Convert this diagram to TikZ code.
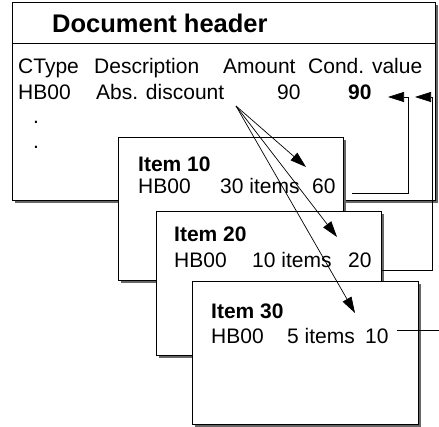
\documentclass[tikz,border=0pt]{standalone}
\usepackage{fontspec}
\setmainfont{Liberation Sans}
\usetikzlibrary{arrows.meta,shadows,positioning}
\tikzset{
    card/.style={
           rectangle,
           draw=black, fill=white, line width=1pt,
           drop shadow={shadow xshift=2.5pt, shadow yshift=-2.5pt, fill=gray!80!black, opacity=1},
           inner sep=0pt,
           },
    txt/.style={anchor=base west, inner sep=0pt, font=\fontsize{21}{24}\selectfont},
    btxt/.style={txt, font=\fontsize{21}{24}\selectfont\bfseries},
    wire/.style={line width=0.7pt, -{Triangle[length=16pt,width=10pt]}},
}

\begin{document}
\begin{tikzpicture}[x=1pt, y=-1pt]
\useasboundingbox (0,0) rectangle (439,427);
% document header
\node[card, minimum width=423pt, minimum height=198pt] (hdr) at (223.5,102) {};
\coordinate (hl) at (0,44);
\draw[line width=1pt] (hdr.west |- hl) -- (hdr.east |- hl);
\node[btxt, font=\fontsize{25.5}{30}\selectfont\bfseries] (title) at (52,33) {Document header};
\node[txt] (ctype) at (18,74) {CType};
\node[txt] (desc) at (94,74) {Description};
\node[txt] (amt) at (223,74) {Amount};
\node[txt] (cval) at (308,74) {Cond. value};
\node[txt] (hb) at (18,100) {HB00};
\node[txt] (abs) at (96,100) {Abs. discount};
\node[txt] (a90) at (277,100) {90};
\node[btxt] (v90) at (348,100) {90};
\node[txt] (dot1) at (33,124) {.};
\node[txt] (dot2) at (33,149) {.};
% items
\node[card, minimum width=225pt, minimum height=143pt] (it10) at (230.5,209.5) {};
\node[btxt] (n10) at (138,172) {Item 10};
\node[txt] (h10) at (138,194) {HB00};
\node[txt] (q10) at (220,194) {30 items};
\node[txt] (v10) at (312,194) {60};
\node[card, minimum width=225pt, minimum height=144pt] (it20) at (268.5,284) {};
\node[btxt] (n20) at (174,242) {Item 20};
\node[txt] (h20) at (174,268) {HB00};
\node[txt] (q20) at (252,268) {10 items};
\node[txt] (v20) at (348,268) {20};
\node[card, minimum width=226pt, minimum height=142pt] (it30) at (305,353) {};
\node[btxt] (n30) at (211,319) {Item 30};
\node[txt] (h30) at (211,344) {HB00};
\node[txt] (q30) at (287,344) {5 items};
\node[txt] (v30) at (365,344) {10};
% distribution of the amount
\coordinate (src) at (236,106);
\coordinate (t10) at (306,167);
\coordinate (t20) at (337,237);
\coordinate (t30) at (355,313);
\foreach \t in {t10,t20,t30}
    \draw[wire] (src) -- (\t);
% cumulation of the values
\coordinate (o10) at (352,193);
\coordinate (k10) at (408,97);
\coordinate (i10) at (388,97);
\coordinate (o20) at (382,270);
\coordinate (k20) at (432,97);
\coordinate (i20) at (415,97);
\coordinate (o30) at (397,330);
\coordinate (k30) at (439,330);
\draw[wire] (o10) -| (k10) -- (i10);
\draw[wire] (o20) -| (k20) -- (i20);
\draw[wire, -] (o30) -- (k30);
\end{tikzpicture}
\end{document}
